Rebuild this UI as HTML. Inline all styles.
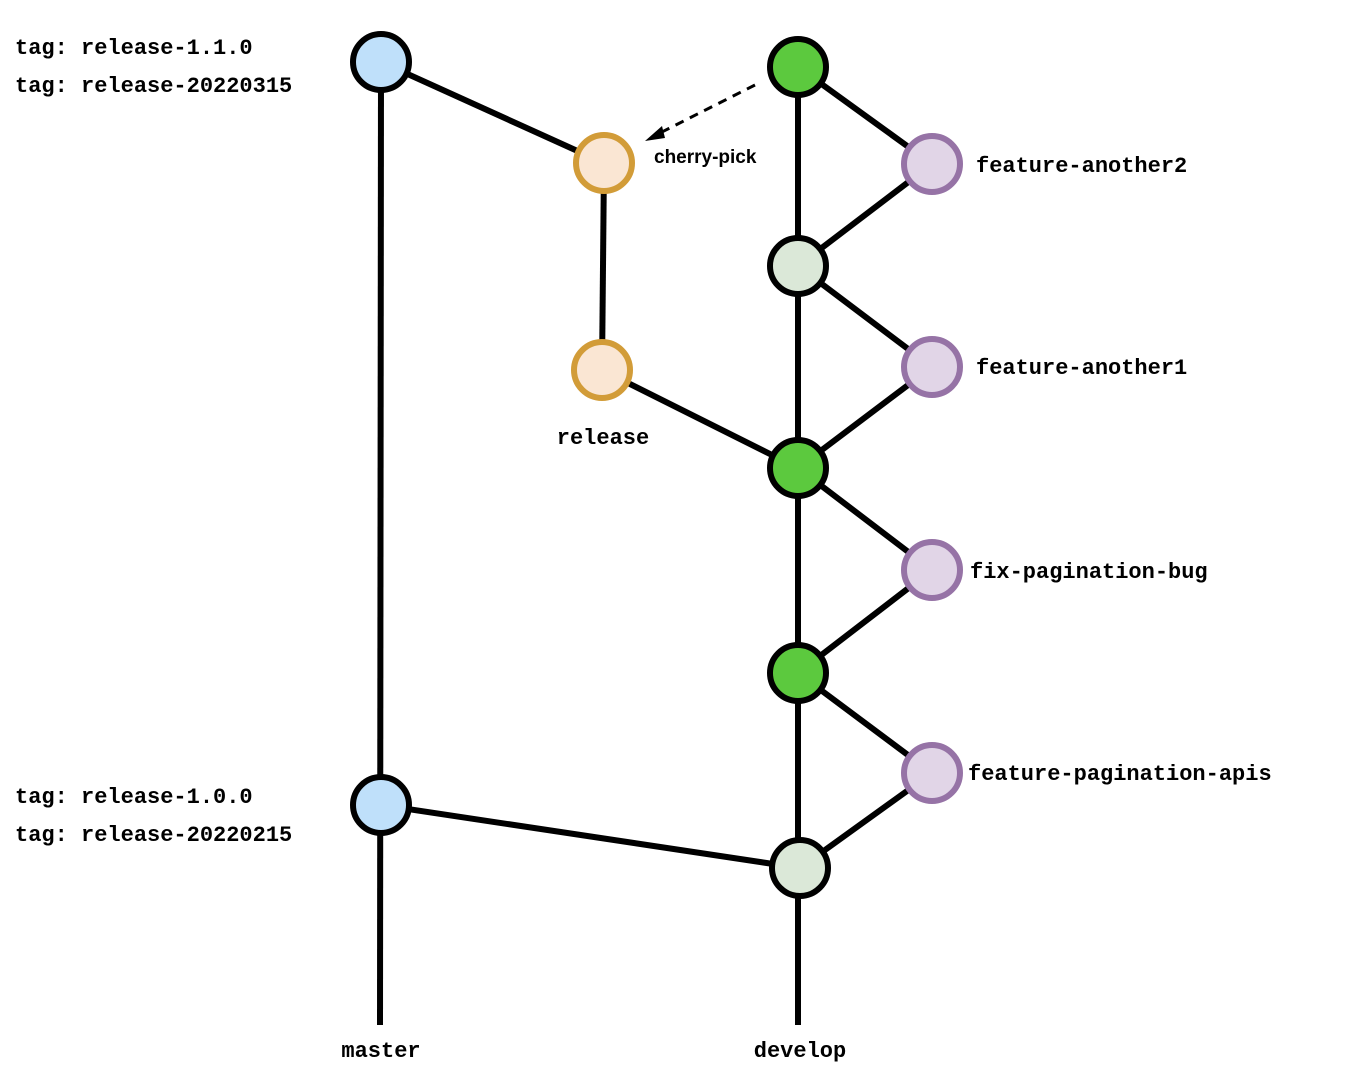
<!DOCTYPE html>
<html><head><meta charset="utf-8"><style>html,body{margin:0;padding:0;background:#fff}svg{display:block}</style></head>
<body>
<svg width="1346" height="1080" viewBox="0 0 1346 1080" xmlns="http://www.w3.org/2000/svg">
<defs><marker id="ah" markerWidth="10" markerHeight="10" refX="9" refY="5" orient="auto" markerUnits="userSpaceOnUse"><path d="M0,0 L18,5 L0,10 Z" transform="scale(0.9)" fill="#000"/></marker></defs>
<g stroke="#000" stroke-width="6" fill="none">
<line x1="381" y1="62" x2="380" y2="1025"/>
<line x1="798" y1="67" x2="798" y2="1025"/>
<line x1="381" y1="62" x2="604" y2="163"/>
<line x1="604" y1="163" x2="602" y2="370"/>
<line x1="602" y1="370" x2="798" y2="468"/>
<line x1="381" y1="805" x2="800" y2="868"/>
<polyline points="798,67 932,164 798,266 932,367 798,468 932,570 798,673 932,773 800,868"/>
</g>
<line x1="755" y1="85" x2="652" y2="137" stroke="#000" stroke-width="3" stroke-dasharray="9,7"/>
<path d="M645,141 L662,126 L665,138 Z" fill="#000"/>
<g stroke-width="6">
<circle cx="381" cy="62" r="28" fill="#bfe0fa" stroke="#000"/>
<circle cx="381" cy="805" r="28" fill="#bfe0fa" stroke="#000"/>
<circle cx="604" cy="163" r="28" fill="#fae6d3" stroke="#d29c38"/>
<circle cx="602" cy="370" r="28" fill="#fae6d3" stroke="#d29c38"/>
<circle cx="798" cy="67" r="28" fill="#5cc93e" stroke="#000"/>
<circle cx="798" cy="266" r="28" fill="#dbe8d8" stroke="#000"/>
<circle cx="798" cy="468" r="28" fill="#5cc93e" stroke="#000"/>
<circle cx="798" cy="673" r="28" fill="#5cc93e" stroke="#000"/>
<circle cx="800" cy="868" r="28" fill="#dbe8d8" stroke="#000"/>
<circle cx="932" cy="164" r="28" fill="#e1d5e7" stroke="#9673a6"/>
<circle cx="932" cy="367" r="28" fill="#e1d5e7" stroke="#9673a6"/>
<circle cx="932" cy="570" r="28" fill="#e1d5e7" stroke="#9673a6"/>
<circle cx="932" cy="773" r="28" fill="#e1d5e7" stroke="#9673a6"/>
</g>
<g font-family="Liberation Mono, monospace" font-weight="bold" font-size="22" fill="#000">
<text x="15" y="54">tag: release-1.1.0</text>
<text x="15" y="92">tag: release-20220315</text>
<text x="15" y="803">tag: release-1.0.0</text>
<text x="15" y="841">tag: release-20220215</text>
<text x="603" y="444" text-anchor="middle">release</text>
<text x="381" y="1057" text-anchor="middle">master</text>
<text x="800" y="1057" text-anchor="middle">develop</text>
<text x="976" y="172">feature-another2</text>
<text x="976" y="374">feature-another1</text>
<text x="970" y="578">fix-pagination-bug</text>
<text x="968" y="780">feature-pagination-apis</text>
</g>
<text x="654" y="163" font-family="Liberation Sans, sans-serif" font-weight="bold" font-size="19">cherry-pick</text>
</svg>
</body></html>
